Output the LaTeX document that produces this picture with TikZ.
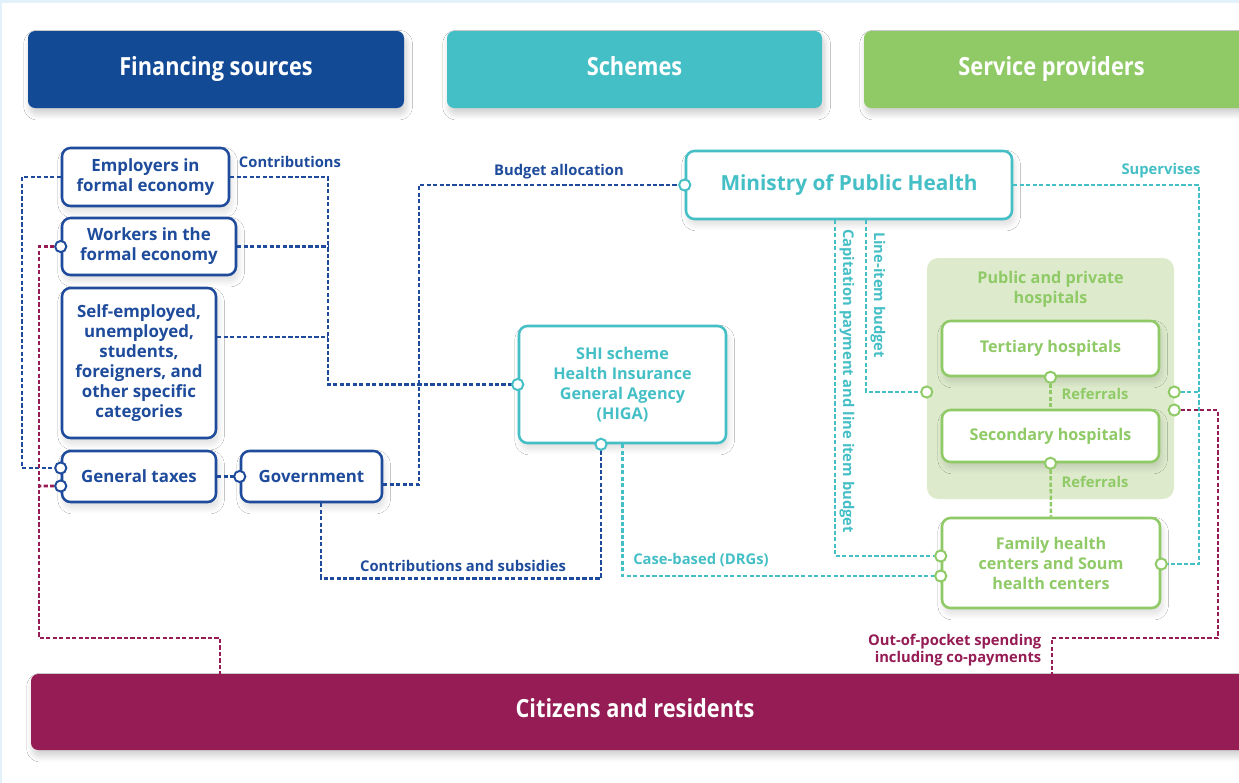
\documentclass[tikz,border=0pt]{standalone}
\usepackage{fontspec}
\setmainfont{Open Sans}
\newfontfamily\headfont{Open Sans}[FakeStretch=0.87]
\usetikzlibrary{calc,shadows.blur}

\definecolor{finblue}{HTML}{134A96}
\definecolor{nodeblue}{HTML}{1E4B9B}
\definecolor{schteal}{HTML}{45BFC6}
\definecolor{provgreen}{HTML}{8FCA66}
\definecolor{grpfill}{HTML}{DDEBCC}
\definecolor{citmaroon}{HTML}{951C54}
\definecolor{framebg}{HTML}{E3F2FA}

\newcommand{\px}{0.025cm}
\newcommand{\hdfont}{\headfont\fontsize{17.8}{20}\selectfont\bfseries}
\newcommand{\bxfont}{\fontsize{12}{14.2}\selectfont\bfseries}
\newcommand{\grfont}{\fontsize{11.5}{14.2}\selectfont\bfseries}
\newcommand{\minfont}{\fontsize{14.8}{17}\selectfont\bfseries}
\newcommand{\lblfont}{\fontsize{10.5}{12}\selectfont\bfseries}

\begin{document}
\begin{tikzpicture}[x=0.025cm, y=-0.025cm,
    boxsize/.style 2 args={minimum width=#1*\px, minimum height=#2*\px, inner sep=0pt},
    softshadow/.style={blur shadow={shadow xshift=1.5pt, shadow yshift=-4pt,
        shadow blur radius=4.5pt, shadow blur steps=14, shadow opacity=#1}},
    header/.style={rounded corners=5pt, fill=#1, text=white, font=\hdfont,
        execute at begin node=\strut, softshadow=20},
    box/.style={draw=#1, text=#1, fill=white, line width=1.8pt, rounded corners=6pt,
        align=center, font=\bxfont, softshadow=14},
    port/.style={circle, draw=#1, fill=white, line width=1.4pt, inner sep=0pt, minimum size=0.28cm},
    link/.style={draw=#1, line width=1.8pt, dash pattern=on 3pt off 1.6pt},
    lbl/.style={text=#1, font=\lblfont, inner sep=1pt},
]
    \useasboundingbox (0,0) rectangle (1239,783);
    % Frame
    \fill[white] (0,0) rectangle (1239,783);
    \fill[framebg] (0,0) rectangle (1239,3);
    \fill[framebg] (0,0) rectangle (2,783);

    % Header bars
    \node[header=finblue, boxsize={376}{77}] (fin) at (216,69.5) {Financing sources};
    \node[header=schteal, boxsize={375}{77}] (sch) at (634.5,69.5) {Schemes};
    \node[header=provgreen, boxsize={395}{77}] (prov) at (1061.5,69.5) {\hspace*{-0.5cm}Service providers};
    \node[header=citmaroon, boxsize={1228}{76}] (cit) at (645,712) {\hspace*{-0.5cm}Citizens and residents};

    % Financing sources
    \node[box=nodeblue, boxsize={167}{58}] (emp) at (145.5,177) {Employers in\\formal economy};
    \node[box=nodeblue, boxsize={174}{57}] (wrk) at (149,246.5) {Workers in the\\formal economy};
    \node[box=nodeblue, boxsize={154}{150}] (self) at (139,363) {Self-employed,\\unemployed,\\students,\\foreigners, and\\other specific\\categories};
    \node[box=nodeblue, boxsize={154}{51}] (tax) at (139,476.5) {General taxes};
    \node[box=nodeblue, boxsize={141}{51}] (gov) at (311.5,476.5) {Government};

    % Schemes
    \node[box=schteal, boxsize={326}{68}, font=\minfont] (min) at (849,185) {Ministry of Public Health};
    \node[box=schteal, boxsize={207}{117}, font=\grfont] (higa) at (622.5,384.5) {SHI scheme\\Health Insurance\\General Agency\\(HIGA)};

    % Service providers
    \node[fill=grpfill, rounded corners=8pt, boxsize={247}{241}] (grp) at (1050.5,378.5) {};
    \node[text=provgreen, font=\grfont, align=center] (grpT) at (1050.5,289) {Public and private\\hospitals};
    \node[box=provgreen, boxsize={217}{55}, font=\grfont] (ter) at (1050.5,348.5) {Tertiary hospitals};
    \node[box=provgreen, boxsize={217}{52}, font=\grfont] (sec) at (1050.5,436) {Secondary hospitals};
    \node[box=provgreen, boxsize={218}{90}, font=\grfont] (fam) at (1051,563) {Family health\\centers and Soum\\health centers};

    % Ports and bends
    \coordinate (pTaxA) at ($(tax.west)+(0,-8.5)$);
    \coordinate (pTaxB) at ($(tax.west)+(0,9.5)$);
    \coordinate (pHigaS) at ($(higa.south)+(-21.5,0)$);
    \coordinate (pGrpW) at ($(grp.west)+(0,13.5)$);
    \coordinate (pGrpE1) at ($(grp.east)+(0,13.5)$);
    \coordinate (pGrpE2) at ($(grp.east)+(0,31.5)$);
    \coordinate (pFamW1) at ($(fam.west)+(0,-7)$);
    \coordinate (pFamW2) at ($(fam.west)+(0,13)$);
    \coordinate (pFamE) at ($(fam.east)+(0,1)$);
    \coordinate (cj) at (328,300);
    \coordinate (bj) at (419,300);
    \coordinate (sj) at (1199,300);
    \coordinate (citL) at (220,674);
    \coordinate (citR) at (1052,674);

    % Blue links
    \draw[link=nodeblue] (emp.west) -| (22,468) -- (pTaxA);
    \draw[link=nodeblue] (emp.east) -| (cj) |- (higa.west);
    \draw[link=nodeblue] (wrk.east) -- (wrk.east -| cj);
    \draw[link=nodeblue] ($(self.east)+(0,-26)$) coordinate (selfR) -- (selfR -| cj);
    \draw[link=nodeblue] (tax.east) -- (gov.west);
    \draw[link=nodeblue] ($(gov.east)+(0,8)$) -| (bj) |- (min.west);
    \draw[link=nodeblue] ($(gov.south)+(9.5,0)$) -- ++(0,75) -| (pHigaS);

    % Teal links
    \draw[link=schteal] (higa.south) |- (pFamW2);
    \draw[link=schteal] ($(min.south)+(-14,0)$) |- (pFamW1);
    \draw[link=schteal] ($(min.south)+(17,0)$) |- (pGrpW);
    \draw[link=schteal] (min.east) -| (sj |- pFamE) -- (pFamE);
    \draw[link=schteal] (pGrpE1) -- (pGrpE1 -| sj);

    % Green links
    \draw[link=provgreen] (ter.south) -- (sec.north);
    \draw[link=provgreen] (sec.south) -- (fam.north);

    % Maroon links
    \draw[link=citmaroon] (wrk.west) -| (39,638) -| (citL);
    \draw[link=citmaroon] (pTaxB) -- (39,486);
    \draw[link=citmaroon] (pGrpE2) -| (1218,638) -| (citR);

    % Port circles
    \foreach \p in {pTaxA,pTaxB,gov.west,wrk.west}
        \node[port=nodeblue] at (\p) {};
    \foreach \p in {higa.west,pHigaS,min.west}
        \node[port=schteal] at (\p) {};
    \foreach \p in {pGrpW,pGrpE1,pGrpE2,ter.south,sec.south,pFamW1,pFamW2,pFamE}
        \node[port=provgreen] at (\p) {};

    % Link labels
    \node[lbl=nodeblue] at (290,162) {Contributions};
    \node[lbl=nodeblue] at (559,172) {Budget allocation};
    \node[lbl=nodeblue] at (463,566) {Contributions and subsidies};
    \node[lbl=schteal] at (701,560) {Case-based (DRGs)};
    \node[lbl=schteal] at (1161,171) {Supervises};
    \node[lbl=schteal, rotate=-90] at (878,295) {Line-item budget};
    \node[lbl=schteal, rotate=-90] at (847,381) {Capitation payment and line item budget};
    \node[lbl=provgreen] at (1095,394) {Referrals};
    \node[lbl=provgreen] at (1095,482) {Referrals};
    \node[lbl=citmaroon, align=right, anchor=east] at (1043,650) {Out-of-pocket spending\\including co-payments};
\end{tikzpicture}
\end{document}
